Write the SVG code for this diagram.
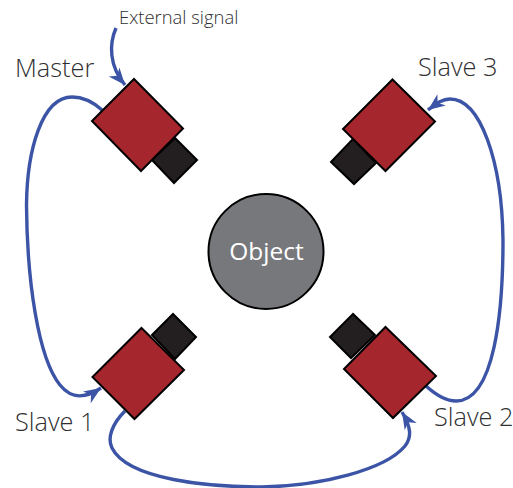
<svg xmlns="http://www.w3.org/2000/svg" width="513" height="488" viewBox="0 0 513 488">
<style>
.body{fill:#a6262e;stroke:#000;stroke-width:2;stroke-linejoin:miter}
.lens{fill:#231f20;stroke:#000;stroke-width:2}
.conn{fill:none;stroke:#3c54a5;stroke-width:3.4}
.label{font-family:"Open Sans","Noto Sans",sans-serif;font-weight:300;fill:#2f2f31;font-size:25.300px}
</style>
<defs>
<marker id="arrow" markerUnits="userSpaceOnUse" markerWidth="20" markerHeight="20" refX="17" refY="8" orient="auto">
<path d="M0,1 L17,8 L0,15 L5,8 Z" fill="#3c54a5"/>
</marker>
</defs>
<rect width="513" height="488" fill="#fff"/>
<g id="connectors">
<path class="conn" d="M102,110 C92,101 82,97 72,97 C42,97 27,150 26.500,205 C27,280 38,358 60,385 C72,400 86,398 101,388" marker-end="url(#arrow)"/>
<path class="conn" d="M116,28 C109,44 109,66 125,85" marker-end="url(#arrow)"/>
<path class="conn" d="M125,411 C112,424 107,438 112,448 C128,480 210,487 262,487 C320,486 385,470 405,446 C412,437 411,427 402,412" marker-end="url(#arrow)"/>
<path class="conn" d="M426,386 C436,395 446,401 456,401 C495,401 503,310 503,240 C502,160 480,99 450,99 C442,99 436,104 428,110" marker-end="url(#arrow)"/>
</g>
<g id="object">
<circle cx="266" cy="251.500" r="57.500" fill="#77787b" stroke="#000" stroke-width="2"/>
<text class="label" x="266.500" y="259.500" text-anchor="middle" style="fill:#fff;font-weight:400;font-size:24.500px">Object</text>
</g>
<g id="master">
<polygon class="lens" points="175,138 197,160 174,183 152,160"/>
<polygon class="body" points="134,79 183,128.5 141,171 92,121"/>
<text class="label" x="15" y="77">Master</text>
</g>
<g id="slave3">
<polygon class="lens" points="353,139 331,162 354,184 376,163"/>
<polygon class="body" points="392.5,79.5 435,121.5 385.5,171 343,129"/>
<text class="label" x="418" y="76">Slave 3</text>
</g>
<g id="slave1">
<polygon class="lens" points="152,335 173,314 196,337 175,359"/>
<polygon class="body" points="141.5,328 184,370 134.5,419 92.5,377"/>
<text class="label" x="15" y="431">Slave 1</text>
</g>
<g id="slave2">
<polygon class="lens" points="353,314 330,337 351,358 375,335"/>
<polygon class="body" points="385.5,327 436,376 393,418 344,369"/>
<text class="label" x="434" y="426">Slave 2</text>
</g>
<g id="external-signal">
<text class="label" x="119" y="24" style="font-size:18.400px">External signal</text>
</g>
</svg>
